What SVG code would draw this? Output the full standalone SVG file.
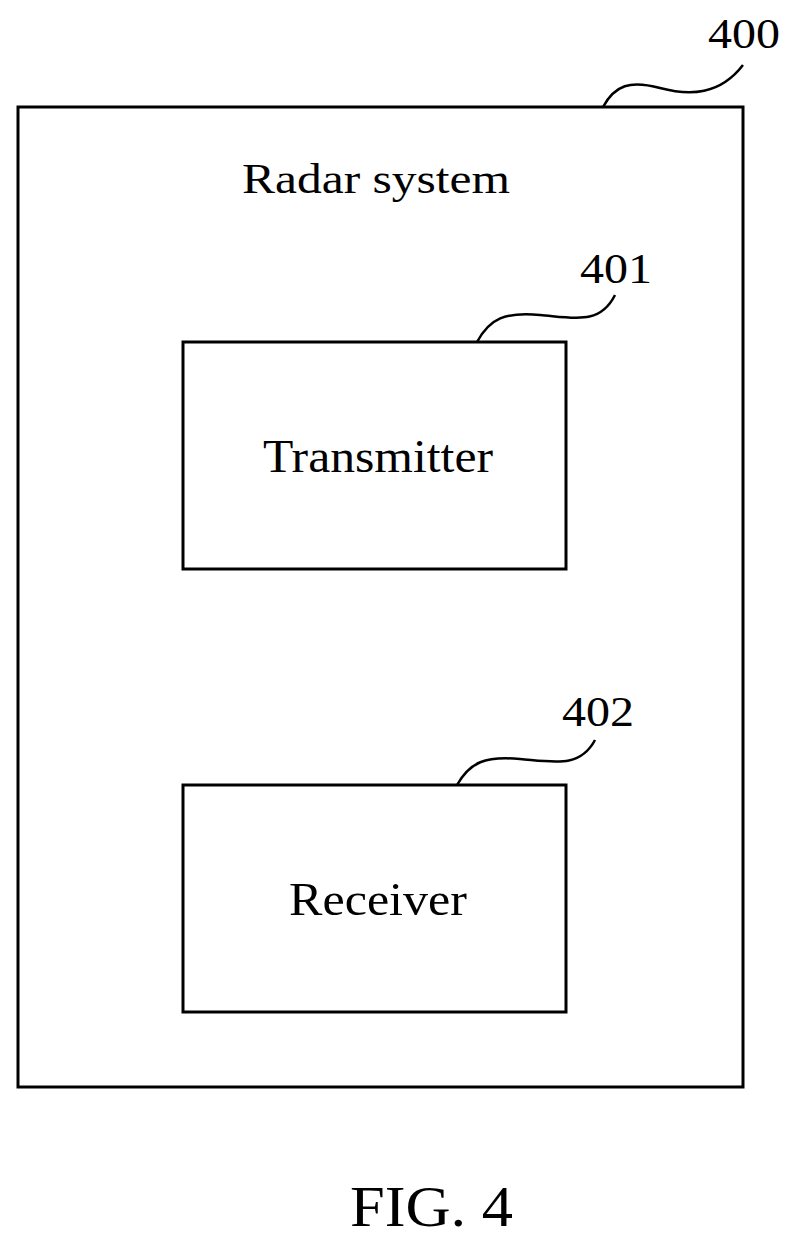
<svg xmlns="http://www.w3.org/2000/svg" width="793" height="1241" viewBox="0 0 793 1241">
<style>
.b{fill:none;stroke:#000;stroke-width:3}
.l{fill:none;stroke:#000;stroke-width:2.5}
text{font-family:"Liberation Serif",serif;fill:#000}
</style>
<rect width="793" height="1241" fill="#fff"/>
<g id="n400">
<rect class="b" x="18" y="107" width="725" height="980"/>
<text x="242" y="193" font-size="42" textLength="268" lengthAdjust="spacingAndGlyphs">Radar system</text>
<path class="l" d="M603,107 C615,85 630,80 660,88 C690,96 720,95 743,65"/>
<text x="708" y="48" font-size="42" textLength="72" lengthAdjust="spacingAndGlyphs">400</text>
</g>
<g id="n401">
<rect class="b" x="183" y="342" width="383" height="227"/>
<text x="263" y="472" font-size="46" textLength="230" lengthAdjust="spacingAndGlyphs">Transmitter</text>
<path class="l" d="M477,342 C490,318 505,312 540,315 C575,318 600,325 615,295"/>
<text x="580" y="283" font-size="42" textLength="72" lengthAdjust="spacingAndGlyphs">401</text>
</g>
<g id="n402">
<rect class="b" x="183" y="785" width="383" height="227"/>
<text x="289" y="915" font-size="46" textLength="178" lengthAdjust="spacingAndGlyphs">Receiver</text>
<path class="l" d="M457,785 C470,762 485,756 520,759 C555,762 580,768 595,740"/>
<text x="562" y="726" font-size="42" textLength="72" lengthAdjust="spacingAndGlyphs">402</text>
</g>
<g id="connectors"></g>
<text x="350" y="1226" font-size="58" textLength="163" lengthAdjust="spacingAndGlyphs">FIG. 4</text>
</svg>
